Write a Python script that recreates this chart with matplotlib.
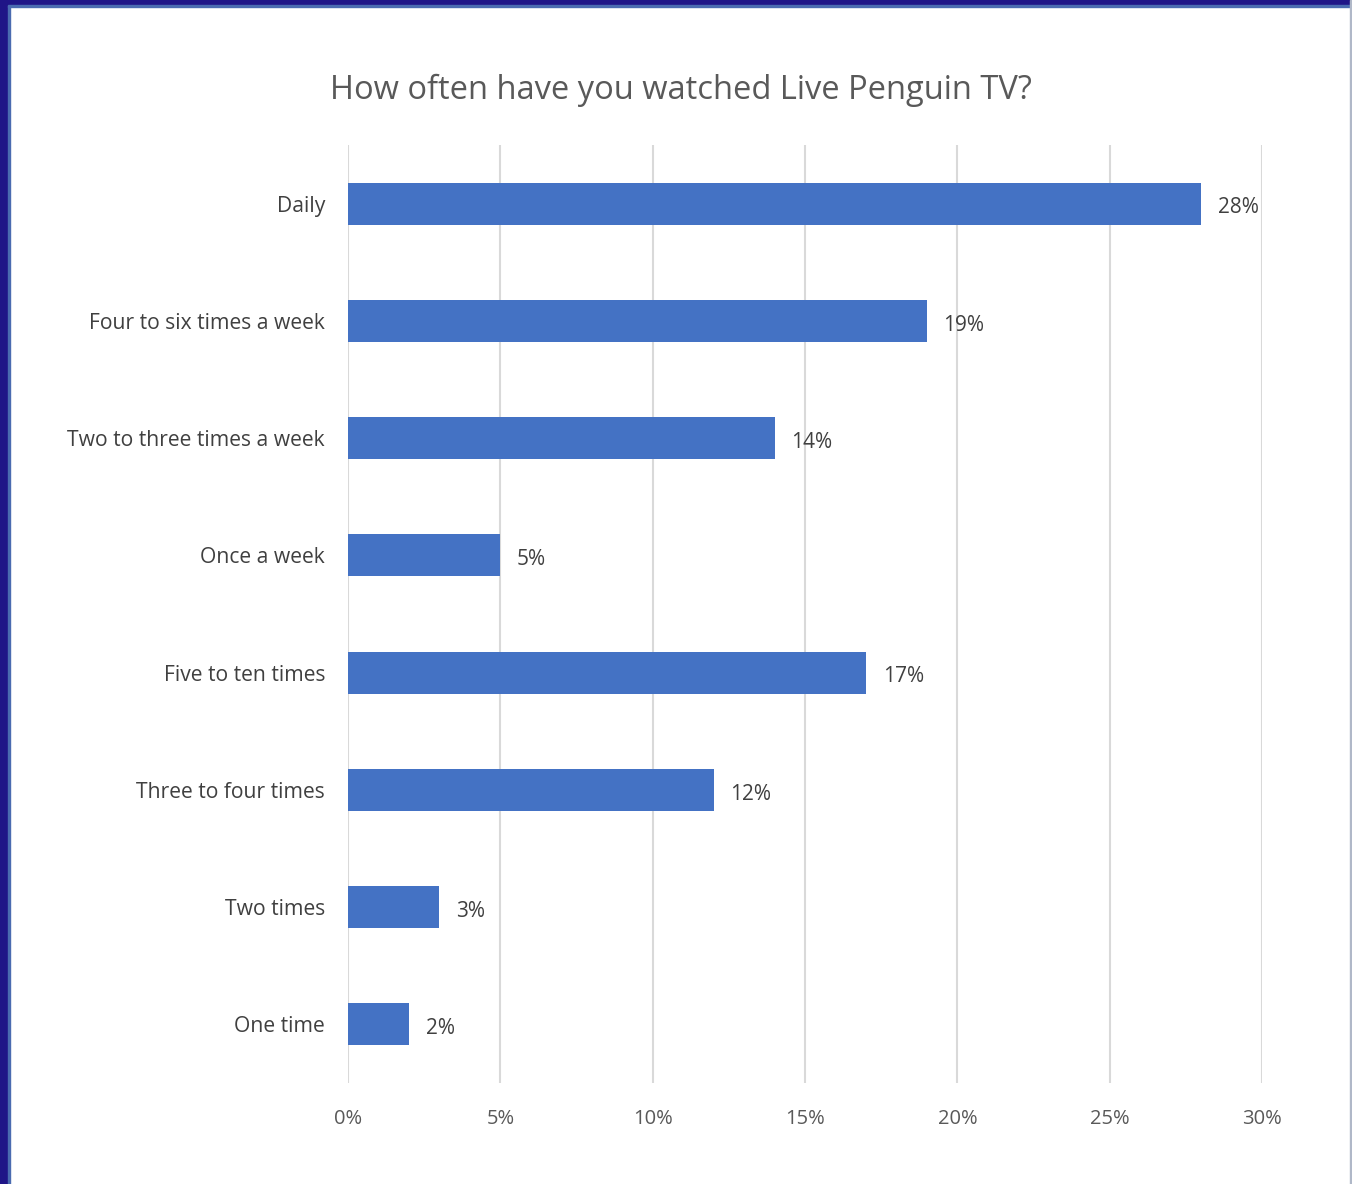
import matplotlib
matplotlib.use("Agg")
import matplotlib.pyplot as plt
import matplotlib.ticker as ticker
from matplotlib.patches import Rectangle

categories = ["Daily", "Four to six times a week", "Two to three times a week",
              "Once a week", "Five to ten times", "Three to four times",
              "Two times", "One time"]
values = [28, 19, 14, 5, 17, 12, 3, 2]
xticks = [0, 5, 10, 15, 20, 25, 30]

plt.rcParams['font.family'] = ['Open Sans', 'DejaVu Sans']

fig = plt.figure(figsize=(13.52, 11.84), dpi=100)
ax = fig.add_axes([348/1352, 1 - 1083/1184, 914/1352, 938/1184])

ypos = list(range(len(categories)))
ax.barh(ypos, values, height=0.36, color="#4472C4", zorder=3)
for y, v in zip(ypos, values):
    ax.annotate(f"{v}%", (v, y), xytext=(12, -3), textcoords="offset points",
                va="center", ha="left", fontsize=15, color="#404040")

ax.set_xlim(0, 30)
ax.set_ylim(len(categories) - 0.5, -0.5)
ax.set_yticks(ypos)
ax.set_yticklabels(categories, fontsize=15.2, color="#404040")
ax.set_xticks(xticks)
ax.xaxis.set_major_formatter(ticker.FuncFormatter(lambda x, p: f"{x:.0f}%"))
ax.tick_params(axis='x', labelsize=14.5, labelcolor="#595959", length=0, pad=19)
ax.tick_params(axis='y', length=0, pad=16.5)
ax.grid(axis='x', color="#D9D9D9", linewidth=1.5, zorder=0)
for s in ax.spines.values():
    s.set_visible(False)

fig.text(0.5035, 1 - 90/1184, "How often have you watched Live Penguin TV?",
         ha="center", va="center", fontsize=23.5, color="#595959")

# window frame
fig.patches.append(Rectangle((0, 0), 8/1352, 1, transform=fig.transFigure, color="#1F1587", zorder=10))
fig.patches.append(Rectangle((8/1352, 0), 2/1352, 1, transform=fig.transFigure, color="#4A6BB0", zorder=10))
fig.patches.append(Rectangle((0, 1 - 5/1184), 1, 5/1184, transform=fig.transFigure, color="#1F1587", zorder=10))
fig.patches.append(Rectangle((8/1352, 1 - 7/1184), 1, 2/1184, transform=fig.transFigure, color="#4A6BB0", zorder=10))
fig.patches.append(Rectangle((1 - 2/1352, 0), 2/1352, 1, transform=fig.transFigure, color="#B0B8C8", zorder=10))

plt.savefig("out.png", dpi=100)
